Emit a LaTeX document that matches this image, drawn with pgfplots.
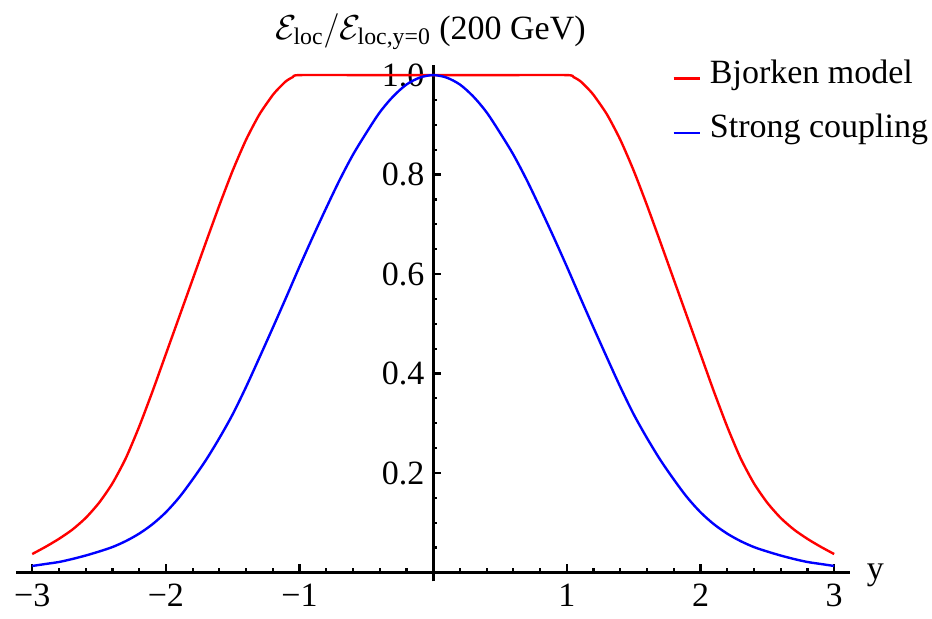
\documentclass[border=0pt]{standalone}
\usepackage{fontspec}
\setmainfont{Liberation Serif}
\usepackage{amsmath}
\usepackage{pgfplots}
\usepackage{pgfplotstable}
\pgfplotsset{compat=1.18}

% Bjorken model (symmetric in y)
\pgfplotstableread{
y     e
-3.0  0.037
-2.9  0.0515
-2.8  0.0675
-2.7  0.086
-2.6  0.1095
-2.5  0.140
-2.4  0.179
-2.3  0.2295
-2.2  0.293
-2.1  0.364
-2.0  0.439
-1.9  0.514
-1.8  0.589
-1.7  0.664
-1.6  0.738
-1.5  0.808
-1.4  0.870
-1.3  0.921
-1.2  0.960
-1.15 0.975
-1.1  0.988
-1.05 0.996
-1.0  1.0
-0.5  1.0
0.0   1.0
0.5   1.0
1.0   1.0
1.05  0.996
1.1   0.988
1.15  0.975
1.2   0.960
1.3   0.921
1.4   0.870
1.5   0.808
1.6   0.738
1.7   0.664
1.8   0.589
1.9   0.514
2.0   0.439
2.1   0.364
2.2   0.293
2.3   0.2295
2.4   0.179
2.5   0.140
2.6   0.1095
2.7   0.086
2.8   0.0675
2.9   0.0515
3.0   0.037
}\bjorken

% strong coupling
\pgfplotstableread{
y     e
-3.0  0.013
-2.9  0.017
-2.8  0.021
-2.7  0.027
-2.6  0.034
-2.5  0.042
-2.4  0.051
-2.3  0.063
-2.2  0.078
-2.1  0.097
-2.0  0.121
-1.9  0.151
-1.8  0.187
-1.7  0.226
-1.6  0.270
-1.5  0.318
-1.4  0.373
-1.3  0.432
-1.2  0.492
-1.1  0.553
-1.0  0.615
-0.9  0.675
-0.8  0.733
-0.7  0.789
-0.6  0.840
-0.5  0.884
-0.4  0.925
-0.3  0.957
-0.2  0.981
-0.1  0.995
0.0   1.0
0.1   0.995
0.2   0.981
0.3   0.957
0.4   0.925
0.5   0.884
0.6   0.840
0.7   0.789
0.8   0.733
0.9   0.675
1.0   0.615
1.1   0.553
1.2   0.492
1.3   0.432
1.4   0.373
1.5   0.318
1.6   0.270
1.7   0.226
1.8   0.187
1.9   0.151
2.0   0.121
2.1   0.097
2.2   0.078
2.3   0.063
2.4   0.051
2.5   0.042
2.6   0.034
2.7   0.027
2.8   0.021
2.9   0.017
3.0   0.013
}\strong

\begin{document}
\fontsize{17}{20}\selectfont
\begin{tikzpicture}
\begin{axis}[
    x=66.85pt, y=248.75pt,
    xmin=-3.12, xmax=3.12, ymin=-0.018, ymax=1.02,
    axis lines=middle,
    axis line style={line width=1.4pt, -},
    every inner x axis line/.append style={-},
    every inner y axis line/.append style={-},
    clip=false,
    xtick={-3,-2,-1,1,2,3},
    xticklabels={−3,−2,−1,1,2,3},
    ytick={0.2,0.4,0.6,0.8,1.0},
    yticklabels={0.2,0.4,0.6,0.8,1.0},
    minor xtick={-3,-2.8,...,3},
    minor ytick={0.05,0.1,...,1.0},
    tick align=inside,
    major tick length=4pt, minor tick length=2pt,
    tick style={line width=1.1pt, black},
    yticklabel style={xshift=1.5pt},
    every axis y label/.style={at={(axis cs:-0.02,1.02)}, anchor=base, yshift=12.9pt},
    ylabel={$\mathcal{E}_{\text{loc}}/\mathcal{E}_{\text{loc,y=0}}$ (200 GeV)},
    every axis x label/.style={at={(axis cs:3.12,0)}, anchor=base west, xshift=2.5pt, yshift=-3.6pt},
    xlabel={y},
    legend style={draw=none, fill=none, inner sep=0pt, row sep=8.8pt, column sep=2.5pt,
        at={(0.7865,1.0183)}, anchor=north west},
    legend cell align=left,
    legend image code/.code={\draw[#1] (0pt,-2pt) -- (13pt,-2pt);},
]
\addplot[red, line width=1.2pt, smooth, tension=0.4] table[x=y, y=e] {\bjorken};
\addlegendentry{Bjorken model}
\addplot[blue, line width=1.2pt, smooth] table[x=y, y=e] {\strong};
\addlegendentry{Strong coupling}
\path (axis cs:-3.241,-0.077) rectangle (axis cs:3.730,1.151);
\end{axis}
\end{tikzpicture}
\end{document}
